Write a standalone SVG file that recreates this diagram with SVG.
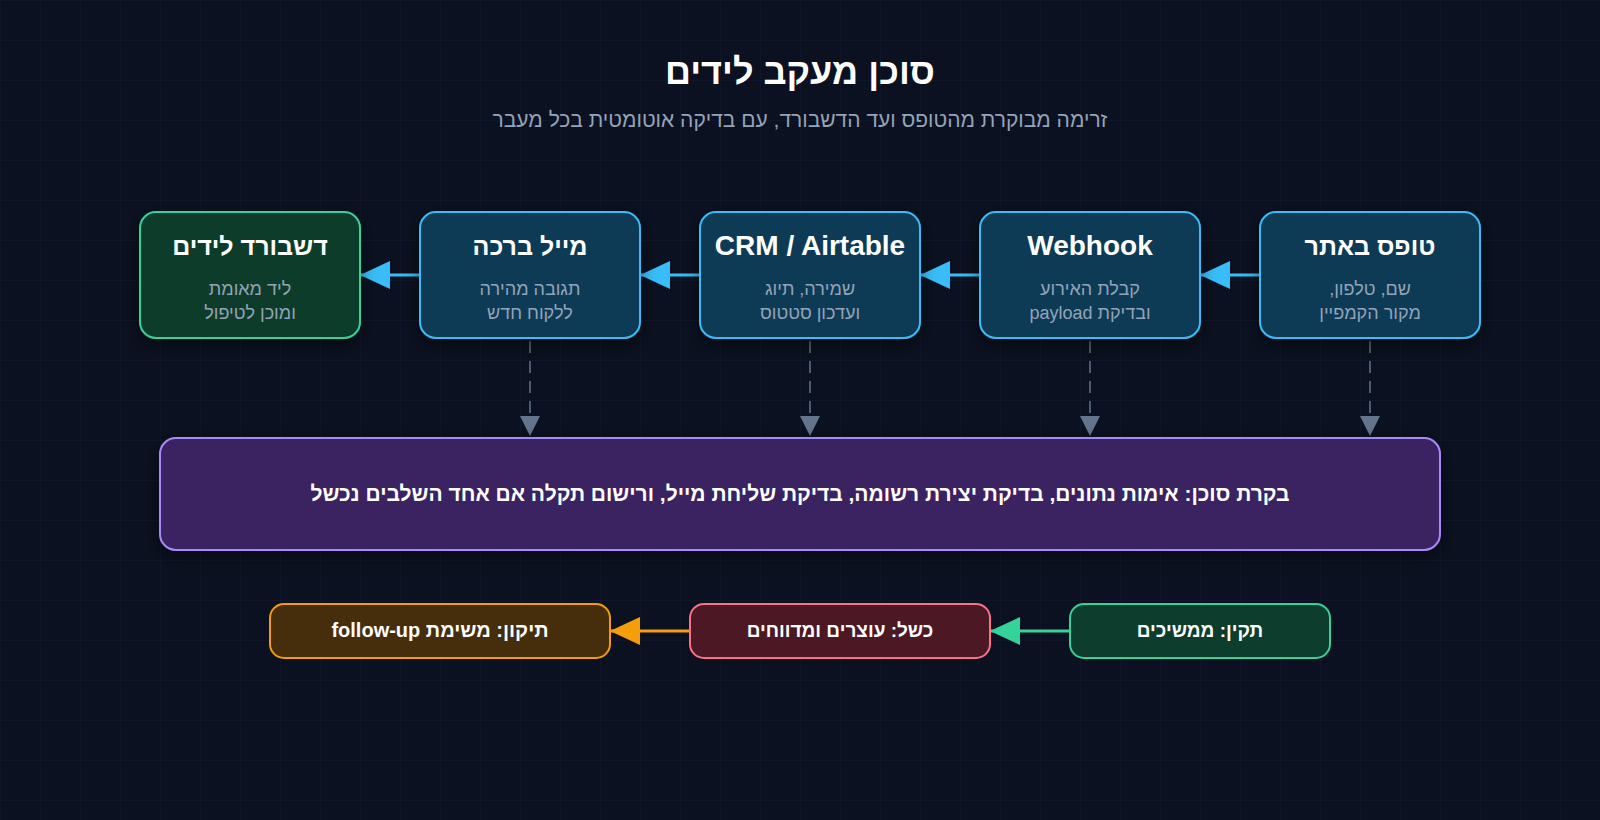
<svg xmlns="http://www.w3.org/2000/svg" width="1600" height="820" viewBox="0 0 1600 820">
<defs>
<style>
.t{font-family:"Liberation Sans","DejaVu Sans",Arial,sans-serif;direction:rtl;text-anchor:middle}
.h1{font-size:36px;font-weight:bold;fill:#ffffff}
.sub{font-size:21px;fill:#94a3b8}
.nt{font-size:25px;font-weight:bold;fill:#ffffff}
.nl{font-size:28px;font-weight:bold;fill:#ffffff}
.ns{font-size:18px;fill:#94a3b8}
.ct{font-size:21px;font-weight:bold;fill:#ffffff}
.bt{font-size:19px;font-weight:bold;fill:#ffffff}
.blue{fill:#0e3a56;stroke:#38bdf8;stroke-width:2}
.green{fill:#0d3d2c;stroke:#34d399;stroke-width:2}
.purple{fill:#3b2160;stroke:#a78bfa;stroke-width:2}
.red{fill:#4b1824;stroke:#fb7185;stroke-width:2}
.orange{fill:#462d0b;stroke:#f59e0b;stroke-width:2}
</style>
<pattern id="grid" width="40" height="40" patternUnits="userSpaceOnUse">
<path d="M40 0 L0 0 0 40" fill="none" stroke="#1e293b" stroke-opacity="0.45" stroke-width="1"/>
</pattern>
<filter id="sh" x="-20%" y="-20%" width="140%" height="150%">
<feDropShadow dx="0" dy="6" stdDeviation="8" flood-color="#000000" flood-opacity="0.45"/>
</filter>
<marker id="ab" viewBox="0 0 30 28" refX="30" refY="14" markerWidth="30" markerHeight="28" markerUnits="userSpaceOnUse" orient="auto">
<path d="M0 0 L30 14 L0 28 Z" fill="#38bdf8"/>
</marker>
<marker id="ag" viewBox="0 0 20 20" refX="20" refY="10" markerWidth="20" markerHeight="20" markerUnits="userSpaceOnUse" orient="auto">
<path d="M0 0 L20 10 L0 20 Z" fill="#64748b"/>
</marker>
<marker id="agr" viewBox="0 0 30 28" refX="30" refY="14" markerWidth="30" markerHeight="28" markerUnits="userSpaceOnUse" orient="auto">
<path d="M0 0 L30 14 L0 28 Z" fill="#34d399"/>
</marker>
<marker id="aor" viewBox="0 0 30 28" refX="30" refY="14" markerWidth="30" markerHeight="28" markerUnits="userSpaceOnUse" orient="auto">
<path d="M0 0 L30 14 L0 28 Z" fill="#f59e0b"/>
</marker>
</defs>
<rect width="1600" height="820" fill="#0b1120"/>
<rect width="1600" height="820" fill="url(#grid)"/>

<text class="t h1" x="800" y="84">סוכן מעקב לידים</text>
<text class="t sub" x="800" y="127">זרימה מבוקרת מהטופס ועד הדשבורד, עם בדיקה אוטומטית בכל מעבר</text>

<g id="connectors">
<line x1="1260" y1="275" x2="1200" y2="275" stroke="#38bdf8" stroke-width="3" marker-end="url(#ab)"/>
<line x1="980" y1="275" x2="920" y2="275" stroke="#38bdf8" stroke-width="3" marker-end="url(#ab)"/>
<line x1="700" y1="275" x2="640" y2="275" stroke="#38bdf8" stroke-width="3" marker-end="url(#ab)"/>
<line x1="420" y1="275" x2="360" y2="275" stroke="#38bdf8" stroke-width="3" marker-end="url(#ab)"/>
<line x1="1370" y1="341" x2="1370" y2="436" stroke="#64748b" stroke-width="1.5" stroke-dasharray="12 8" marker-end="url(#ag)"/>
<line x1="1090" y1="341" x2="1090" y2="436" stroke="#64748b" stroke-width="1.5" stroke-dasharray="12 8" marker-end="url(#ag)"/>
<line x1="810" y1="341" x2="810" y2="436" stroke="#64748b" stroke-width="1.5" stroke-dasharray="12 8" marker-end="url(#ag)"/>
<line x1="530" y1="341" x2="530" y2="436" stroke="#64748b" stroke-width="1.5" stroke-dasharray="12 8" marker-end="url(#ag)"/>
<line x1="1070" y1="631" x2="990" y2="631" stroke="#34d399" stroke-width="3" marker-end="url(#agr)"/>
<line x1="690" y1="631" x2="610" y2="631" stroke="#f59e0b" stroke-width="3" marker-end="url(#aor)"/>
</g>

<g id="form">
<rect class="blue" x="1260" y="212" width="220" height="126" rx="16" filter="url(#sh)"/>
<text class="t nt" x="1370" y="255">טופס באתר</text>
<text class="t ns" x="1370" y="295">שם, טלפון,</text>
<text class="t ns" x="1370" y="319">מקור הקמפיין</text>
</g>
<g id="webhook">
<rect class="blue" x="980" y="212" width="220" height="126" rx="16" filter="url(#sh)"/>
<text class="t nl" x="1090" y="255">Webhook</text>
<text class="t ns" x="1090" y="295">קבלת האירוע</text>
<text class="t ns" x="1090" y="319">ובדיקת payload</text>
</g>
<g id="crm">
<rect class="blue" x="700" y="212" width="220" height="126" rx="16" filter="url(#sh)"/>
<text class="t nl" x="810" y="255">CRM / Airtable</text>
<text class="t ns" x="810" y="295">שמירה, תיוג</text>
<text class="t ns" x="810" y="319">ועדכון סטטוס</text>
</g>
<g id="mail">
<rect class="blue" x="420" y="212" width="220" height="126" rx="16" filter="url(#sh)"/>
<text class="t nt" x="530" y="255">מייל ברכה</text>
<text class="t ns" x="530" y="295">תגובה מהירה</text>
<text class="t ns" x="530" y="319">ללקוח חדש</text>
</g>
<g id="dashboard">
<rect class="green" x="140" y="212" width="220" height="126" rx="16" filter="url(#sh)"/>
<text class="t nt" x="250" y="255">דשבורד לידים</text>
<text class="t ns" x="250" y="295">ליד מאומת</text>
<text class="t ns" x="250" y="319">ומוכן לטיפול</text>
</g>
<g id="agent-check">
<rect class="purple" x="160" y="438" width="1280" height="112" rx="16" filter="url(#sh)"/>
<text class="t ct" x="800" y="501">בקרת סוכן: אימות נתונים, בדיקת יצירת רשומה, בדיקת שליחת מייל, ורישום תקלה אם אחד השלבים נכשל</text>
</g>
<g id="ok">
<rect class="green" x="1070" y="604" width="260" height="54" rx="14"/>
<text class="t bt" x="1200" y="637">תקין: ממשיכים</text>
</g>
<g id="fail">
<rect class="red" x="690" y="604" width="300" height="54" rx="14"/>
<text class="t bt" x="840" y="637">כשל: עוצרים ומדווחים</text>
</g>
<g id="fix">
<rect class="orange" x="270" y="604" width="340" height="54" rx="14"/>
<text class="t bt" x="440" y="637" style="font-size:20px">תיקון: משימת follow-up</text>
</g>
</svg>
